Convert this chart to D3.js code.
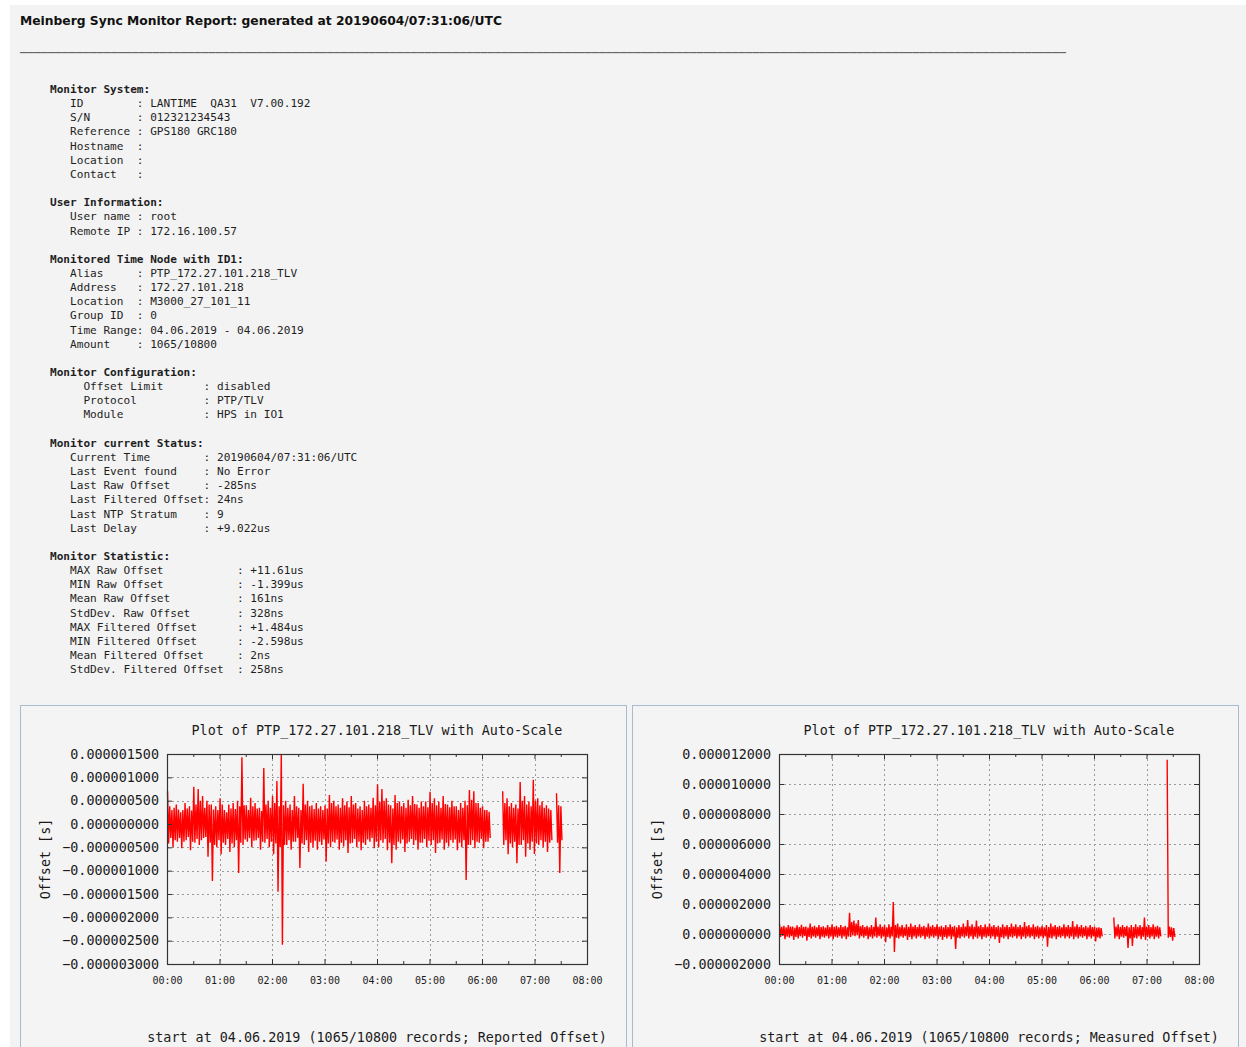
<!DOCTYPE html>
<html>
<head>
<meta charset="utf-8">
<script src="https://cdn.jsdelivr.net/npm/d3@7"></script>
<style>
	body { margin: 0; background: #fff; }
	svg { display: block; }
</style>
</head>
<body>
<svg id="page"></svg>
<script>
// -------------- DATA --------------
const reportTitle = "Meinberg Sync Monitor Report: generated at 20190604/07:31:06/UTC";

const reportLines = [
	"Monitor System:",
	"   ID        : LANTIME  QA31  V7.00.192",
	"   S/N       : 012321234543",
	"   Reference : GPS180 GRC180",
	"   Hostname  :",
	"   Location  :",
	"   Contact   :",
	"",
	"User Information:",
	"   User name : root",
	"   Remote IP : 172.16.100.57",
	"",
	"Monitored Time Node with ID1:",
	"   Alias     : PTP_172.27.101.218_TLV",
	"   Address   : 172.27.101.218",
	"   Location  : M3000_27_101_11",
	"   Group ID  : 0",
	"   Time Range: 04.06.2019 - 04.06.2019",
	"   Amount    : 1065/10800",
	"",
	"Monitor Configuration:",
	"     Offset Limit      : disabled",
	"     Protocol          : PTP/TLV",
	"     Module            : HPS in IO1",
	"",
	"Monitor current Status:",
	"   Current Time        : 20190604/07:31:06/UTC",
	"   Last Event found    : No Error",
	"   Last Raw Offset     : -285ns",
	"   Last Filtered Offset: 24ns",
	"   Last NTP Stratum    : 9",
	"   Last Delay          : +9.022us",
	"",
	"Monitor Statistic:",
	"   MAX Raw Offset           : +11.61us",
	"   MIN Raw Offset           : -1.399us",
	"   Mean Raw Offset          : 161ns",
	"   StdDev. Raw Offset       : 328ns",
	"   MAX Filtered Offset      : +1.484us",
	"   MIN Filtered Offset      : -2.598us",
	"   Mean Filtered Offset     : 2ns",
	"   StdDev. Filtered Offset  : 258ns"
];

const plotTitle = "Plot of PTP_172.27.101.218_TLV with Auto-Scale";
const yAxisTitle = "Offset [s]";
const hourValues = [0, 60, 120, 180, 240, 300, 360, 420, 480]; // minutes
const hourLabels = ["00:00", "01:00", "02:00", "03:00", "04:00", "05:00", "06:00", "07:00", "08:00"];
const halfHourValues = [30, 90, 150, 210, 270, 330, 390, 450];
const binMinutes = 2.5;

// offsets in ns; each bin (2.5 min) holds the max and min
// segment start minutes, data gaps between segments
const reportedSegStart = [0, 383, 444.5];
const reportedHi = [
	[
		700, 380, 300, 350, 420, 310, 250, 300, 450, 330,
		380, 290, 800, 420, 750, 500, 600, 350, 500, 420,
		420, 310, 380, 300, 550, 420, 300, 250, 420, 330,
		450, 320, 500, 380, 1430, 400, 400, 300, 560, 380,
		450, 330, 350, 280, 1200, 420, 500, 350, 600, 450,
		920, 380, 1500, 400, 500, 350, 420, 300, 600, 380,
		350, 300, 860, 420, 500, 380, 400, 320, 450, 330,
		380, 300, 400, 330, 620, 450, 500, 380, 420, 350,
		550, 400, 480, 360, 600, 420, 450, 330, 380, 300,
		500, 380, 420, 350, 560, 400, 850, 480, 750, 500,
		550, 420, 400, 330, 620, 450, 480, 380, 450, 350,
		520, 400, 600, 430, 420, 350, 480, 380, 480, 360,
		690, 450, 550, 400, 480, 350, 600, 430, 420, 360,
		500, 380, 380, 300, 450, 350, 500, 400, 730, 520,
		700, 450, 450, 350, 380, 300, 300, 260
	],
	[
		700, 450, 550, 380, 450, 350, 420, 330, 900, 500,
		600, 420, 480, 380, 950, 500, 550, 400, 480, 350,
		400, 330, 300
	],
	[660, 400, 380]
];
const reportedLo = [
	[
		-420, -300, -500, -350, -380, -300, -520, -380, -350, -280,
		-560, -380, -400, -320, -450, -350, -300, -280, -700, -400,
		-1220, -450, -500, -350, -650, -400, -450, -320, -600, -420,
		-500, -350, -1050, -400, -450, -330, -380, -300, -500, -360,
		-350, -300, -550, -380, -400, -320, -500, -380, -650, -420,
		-1450, -500, -2590, -450, -450, -350, -550, -380, -380, -300,
		-940, -420, -450, -350, -600, -400, -500, -360, -550, -380,
		-450, -330, -810, -420, -500, -380, -400, -330, -550, -400,
		-480, -350, -620, -420, -400, -320, -500, -380, -560, -400,
		-450, -330, -380, -300, -520, -380, -500, -350, -400, -320,
		-560, -400, -840, -450, -550, -380, -420, -330, -600, -420,
		-380, -320, -450, -350, -550, -400, -400, -320, -500, -360,
		-450, -350, -620, -420, -400, -330, -550, -400, -480, -350,
		-400, -330, -560, -400, -500, -350, -1200, -450, -450, -350,
		-520, -380, -400, -320, -520, -380, -380, -300
	],
	[
		-450, -350, -650, -420, -500, -380, -840, -450, -450, -350,
		-700, -420, -550, -380, -640, -420, -450, -350, -500, -380,
		-600, -400, -350
	],
	[-400, -1050, -350]
];

const measuredSegStart = [0, 382, 443];
const measuredHi = [
	[
		650, 480, 550, 450, 600, 500, 500, 420, 580, 460,
		620, 470, 500, 430, 700, 480, 550, 450, 600, 470,
		520, 430, 600, 460, 650, 480, 550, 440, 600, 470,
		550, 450, 1420, 800, 900, 700, 930, 520, 600, 460,
		550, 440, 600, 470, 1090, 500, 650, 480, 600, 450,
		650, 480, 2130, 600, 700, 480, 600, 450, 650, 470,
		700, 500, 600, 460, 650, 480, 550, 450, 700, 500,
		600, 470, 650, 480, 550, 440, 600, 460, 650, 480,
		550, 440, 600, 470, 700, 500, 930, 520, 650, 480,
		900, 520, 600, 460, 650, 480, 700, 500, 600, 460,
		550, 440, 650, 480, 600, 460, 700, 500, 650, 480,
		600, 460, 800, 520, 600, 450, 650, 480, 550, 440,
		550, 450, 600, 460, 700, 500, 600, 470, 550, 440,
		650, 480, 600, 460, 870, 500, 650, 480, 600, 450,
		550, 440, 600, 460, 500, 420, 450, 400
	],
	[
		1100, 500, 650, 470, 600, 460, 550, 440, 600, 460,
		650, 480, 600, 460, 1100, 500, 600, 460, 650, 480,
		550, 440
	],
	[11610, 500, 450, 400]
];
const measuredLo = [
	[
		-200, -120, -350, -180, -250, -150, -400, -200, -300, -150,
		-250, -130, -450, -200, -300, -160, -250, -140, -350, -180,
		-250, -150, -300, -170, -350, -180, -250, -140, -300, -160,
		-350, -170, -200, -100, -150, -80, -300, -150, -250, -130,
		-350, -180, -300, -160, -250, -140, -300, -170, -540, -200,
		-300, -160, -1200, -250, -300, -160, -250, -140, -400, -190,
		-350, -170, -300, -160, -250, -140, -350, -180, -300, -160,
		-250, -140, -350, -180, -400, -200, -300, -160, -350, -170,
		-1000, -250, -300, -160, -250, -140, -300, -170, -350, -180,
		-300, -160, -350, -180, -250, -140, -300, -160, -350, -180,
		-600, -220, -300, -160, -350, -180, -250, -140, -300, -160,
		-350, -170, -300, -160, -250, -140, -350, -180, -300, -160,
		-300, -160, -850, -250, -300, -160, -350, -180, -250, -140,
		-300, -160, -300, -160, -350, -180, -300, -160, -250, -140,
		-350, -180, -300, -160, -500, -220, -300, -160
	],
	[
		-300, -160, -350, -180, -250, -140, -930, -300, -800, -250,
		-300, -160, -350, -180, -400, -200, -300, -160, -350, -180,
		-300, -160
	],
	[-250, -200, -450, -200]
];

const reportedYTicks = [1500, 1000, 500, 0, -500, -1000, -1500, -2000, -2500, -3000];
const measuredYTicks = [12000, 10000, 8000, 6000, 4000, 2000, 0, -2000];
const reportedFooter = "start at 04.06.2019 (1065/10800 records; Reported Offset)";
const measuredFooter = "start at 04.06.2019 (1065/10800 records; Measured Offset)";

// -------------- PAGE --------------
const size = { w: 1246, h: 1047 };
const svg = d3.select("#page").attr("width", size.w).attr("height", size.h);

svg.append("rect")
	.attr("x", 10)
	.attr("y", 5)
	.attr("width", size.w - 10)
	.attr("height", size.h - 5)
	.attr("fill", "#f3f3f3");

svg.append("text")
	.attr("x", 20)
	.attr("y", 25)
	.attr("font-family", "DejaVu Sans, Verdana, sans-serif")
	.attr("font-weight", "bold")
	.attr("font-size", 12.3)
	.attr("fill", "#111")
	.text(reportTitle);

svg.append("text")
	.attr("x", 20)
	.attr("y", 50)
	.attr("font-family", "DejaVu Sans, Verdana, sans-serif")
	.attr("font-weight", "bold")
	.attr("font-size", 13)
	.attr("fill", "#666")
	.attr("textLength", 1046)
	.attr("lengthAdjust", "spacingAndGlyphs")
	.text("_".repeat(150));

svg.append("g")
	.selectAll("text")
	.data(reportLines)
	.join("text")
	.attr("x", 50)
	.attr("y", (d, i) => 93 + i * 14.15)
	.attr("xml:space", "preserve")
	.style("white-space", "pre")
	.attr("font-family", "DejaVu Sans Mono, monospace")
	.attr("font-size", 11.1)
	.attr("font-weight", (d) => (d.startsWith(" ") ? "normal" : "bold"))
	.attr("fill", "#1e1e1e")
	.text((d) => d);

// -------------- PLOTS --------------
// each bin becomes two vertices (max then min); null breaks the line at gaps
function binVertices(segStart, hi, lo) {
	let pts = [];
	segStart.forEach((s, k) => {
		if (k > 0) pts.push(null);
		hi[k].forEach((h, i) => {
			let t = s + i * binMinutes;
			pts.push({ t: t + binMinutes * 0.25, v: h });
			pts.push({ t: t + binMinutes * 0.75, v: lo[k][i] });
		});
	});
	return pts;
}

function drawPlot(cfg) {
	let panel = svg.append("g");

	panel.append("rect")
		.attr("x", cfg.panelX + 0.5)
		.attr("y", 705.5)
		.attr("width", 606)
		.attr("height", 360)
		.attr("fill", "#f4f4f4")
		.attr("stroke", "#a9bccf")
		.attr("stroke-width", 1);

	let m = { l: cfg.panelX + 147, r: cfg.panelX + 567, t: 754, b: 964 };

	let xScale = d3.scaleLinear().domain([0, 480]).range([m.l, m.r]);
	let yScale = d3.scaleLinear().domain(cfg.yDomain).range([m.b, m.t]);

	// grid
	panel.append("g")
		.selectAll("line")
		.data(hourValues.slice(1, -1))
		.join("line")
		.attr("x1", (d) => Math.round(xScale(d)) + 0.5)
		.attr("x2", (d) => Math.round(xScale(d)) + 0.5)
		.attr("y1", m.t)
		.attr("y2", m.b)
		.attr("stroke", "#9a9a9a")
		.attr("stroke-dasharray", "2,3");
	panel.append("g")
		.selectAll("line")
		.data(cfg.yTicks.slice(1, -1))
		.join("line")
		.attr("x1", m.l)
		.attr("x2", m.r)
		.attr("y1", (d) => Math.round(yScale(d)) + 0.5)
		.attr("y2", (d) => Math.round(yScale(d)) + 0.5)
		.attr("stroke", "#9a9a9a")
		.attr("stroke-dasharray", "2,3");

	// data
	let line = d3
		.line()
		.defined((d) => d !== null)
		.x((d) => xScale(d.t))
		.y((d) => yScale(d.v));

	panel.append("path")
		.datum(binVertices(cfg.segStart, cfg.hi, cfg.lo))
		.attr("d", line)
		.attr("fill", "none")
		.attr("stroke", "#ff0000")
		.attr("stroke-width", 1.4)
		.attr("stroke-linejoin", "miter")
		.attr("stroke-miterlimit", 1.5);

	// axes
	let yAxis = d3.axisLeft(yScale)
		.tickValues(cfg.yTicks)
		.tickFormat((d) => d3.format(".9f")(d / 1e9))
		.tickSize(-5)
		.tickPadding(8);
	let yG = panel.append("g")
		.attr("transform", `translate(${m.l}, 0)`)
		.call(yAxis);
	yG.select(".domain").remove();
	yG.selectAll("text")
		.attr("font-family", "DejaVu Sans Mono, monospace")
		.attr("font-size", 13.4)
		.attr("fill", "#1a1a1a");

	let yAxisR = d3.axisRight(yScale).tickValues(cfg.yTicks).tickSize(-5).tickFormat("");
	panel.append("g")
		.attr("transform", `translate(${m.r}, 0)`)
		.call(yAxisR)
		.select(".domain").remove();

	let xAxis = d3.axisBottom(xScale)
		.tickValues(hourValues)
		.tickFormat((d, i) => hourLabels[i])
		.tickSize(-5)
		.tickPadding(13);
	let xG = panel.append("g")
		.attr("transform", `translate(0, ${m.b})`)
		.call(xAxis);
	xG.select(".domain").remove();
	xG.selectAll("text")
		.attr("font-family", "DejaVu Sans Mono, monospace")
		.attr("font-size", 10)
		.attr("fill", "#1a1a1a");

	let xAxisT = d3.axisTop(xScale).tickValues(hourValues).tickSize(-5).tickFormat("");
	panel.append("g")
		.attr("transform", `translate(0, ${m.t})`)
		.call(xAxisT)
		.select(".domain").remove();

	let minorB = d3.axisBottom(xScale).tickValues(halfHourValues).tickSize(-3).tickFormat("");
	panel.append("g")
		.attr("transform", `translate(0, ${m.b})`)
		.call(minorB)
		.select(".domain").remove();
	let minorT = d3.axisTop(xScale).tickValues(halfHourValues).tickSize(-3).tickFormat("");
	panel.append("g")
		.attr("transform", `translate(0, ${m.t})`)
		.call(minorT)
		.select(".domain").remove();

	panel.selectAll(".tick line").attr("stroke", "#333");

	panel.append("rect")
		.attr("x", m.l + 0.5)
		.attr("y", m.t + 0.5)
		.attr("width", m.r - m.l)
		.attr("height", m.b - m.t)
		.attr("fill", "none")
		.attr("stroke", "#333")
		.attr("stroke-width", 1.2);

	// labels
	let cx = (m.l + m.r) / 2;
	panel.append("text")
		.attr("x", cx)
		.attr("y", 735)
		.attr("text-anchor", "middle")
		.attr("font-family", "DejaVu Sans Mono, monospace")
		.attr("font-size", 13.4)
		.attr("fill", "#1a1a1a")
		.text(plotTitle);

	panel.append("text")
		.attr("x", cx)
		.attr("y", 1042)
		.attr("text-anchor", "middle")
		.attr("font-family", "DejaVu Sans Mono, monospace")
		.attr("font-size", 13.4)
		.attr("fill", "#1a1a1a")
		.text(cfg.footer);

	panel.append("text")
		.attr("transform", `translate(${cfg.panelX + 30}, 859) rotate(-90)`)
		.attr("text-anchor", "middle")
		.attr("font-family", "DejaVu Sans Mono, monospace")
		.attr("font-size", 13.4)
		.attr("fill", "#1a1a1a")
		.text(yAxisTitle);
}

drawPlot({
	panelX: 20,
	yDomain: [-3000, 1500],
	yTicks: reportedYTicks,
	segStart: reportedSegStart,
	hi: reportedHi,
	lo: reportedLo,
	footer: reportedFooter
});

drawPlot({
	panelX: 632,
	yDomain: [-2000, 12000],
	yTicks: measuredYTicks,
	segStart: measuredSegStart,
	hi: measuredHi,
	lo: measuredLo,
	footer: measuredFooter
});
</script>
</body>
</html>
